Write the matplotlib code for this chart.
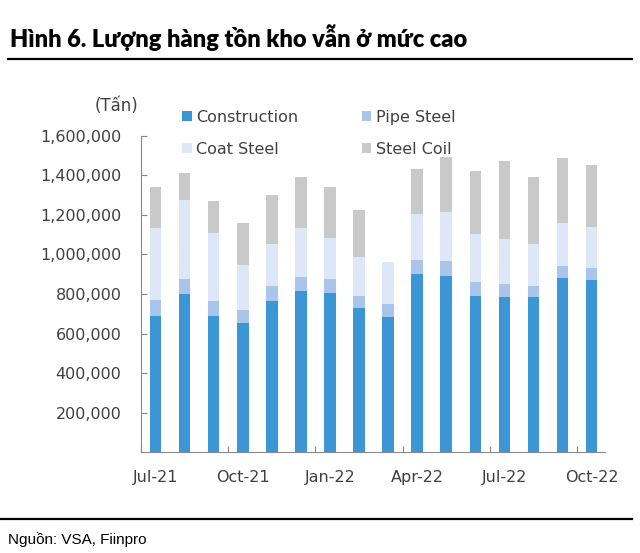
import matplotlib
matplotlib.use('Agg')
import matplotlib.pyplot as plt
import numpy as np
from matplotlib.ticker import FuncFormatter

########################################################################
### data ###
########################################################################

months = ['Jul-21', 'Aug-21', 'Sep-21', 'Oct-21', 'Nov-21', 'Dec-21',
          'Jan-22', 'Feb-22', 'Mar-22', 'Apr-22', 'May-22', 'Jun-22',
          'Jul-22', 'Aug-22', 'Sep-22', 'Oct-22']

construction = [690700, 798600, 687400, 653700, 764900, 815400, 805300, 729500,
                684000, 899600, 889500, 790100, 783400, 783400, 882800, 871000]
pipe_steel = [81000, 79000, 77500, 67000, 74000, 72000, 71000, 60500,
              64000, 72500, 76000, 72500, 67500, 59000, 60500, 60500]
coat_steel = [362000, 399000, 342000, 224000, 215500, 244000, 209000, 195500,
              215500, 232500, 251000, 239000, 225700, 210500, 217500, 209000]
steel_coil = [209000, 133000, 163500, 212000, 246000, 259500, 256000, 237500,
              0, 227500, 278000, 320000, 396000, 338700, 327000, 313500]

yticks = [200000, 400000, 600000, 800000, 1000000, 1200000, 1400000, 1600000]

########################################################################
### plot ###
########################################################################

c_con = '#3b96d5'
c_pipe = '#a9c5ec'
c_coat = '#dde7f8'
c_coil = '#c9c9c9'
txt = '#404040'

fig = plt.figure(figsize=(6.4, 5.53), dpi=100)
ax = fig.add_axes([141/640, 1-452.3/553, 464/640, (452.3-135.7)/553])

x = np.arange(len(months))
w = 0.4
b1 = np.array(construction)
b2 = b1 + np.array(pipe_steel)
b3 = b2 + np.array(coat_steel)

ax.bar(x, construction, w, color=c_con, label='Construction')
ax.bar(x, pipe_steel, w, bottom=b1, color=c_pipe, label='Pipe Steel')
ax.bar(x, coat_steel, w, bottom=b2, color=c_coat, label='Coat Steel')
ax.bar(x, steel_coil, w, bottom=b3, color=c_coil, label='Steel Coil')

ax.set_xlim(-0.5, 15.46)
ax.set_ylim(0, 1600000)

ax.set_yticks(yticks)
ax.yaxis.set_major_formatter(FuncFormatter(lambda v, p: f'{int(v):,}'))
ax.set_xticks(x[::3] - 0.5)
ax.set_xticklabels([])
ax.set_xticks(x[::3], minor=True)
ax.set_xticklabels(months[::3], minor=True)

ax.tick_params(axis='y', direction='in', length=4, color='#888888',
               labelsize=11.5, labelcolor=txt, pad=14)
ax.tick_params(axis='x', which='major', direction='in', length=4, color='#888888')
ax.tick_params(axis='x', which='minor', length=0, labelsize=11.5,
               labelcolor=txt, pad=13)

for s in ['top', 'right']:
    ax.spines[s].set_visible(False)
for s in ['left', 'bottom']:
    ax.spines[s].set_color('#888888')

h, l = ax.get_legend_handles_labels()
order = [0, 2, 1, 3]
ax.legend([h[i] for i in order], [l[i] for i in order], ncol=2,
          loc='upper left', bbox_to_anchor=(182/640, 1-110/553),
          bbox_transform=fig.transFigure, frameon=False,
          fontsize=11.5, labelcolor=txt, handlelength=0.6, handleheight=0.6,
          handletextpad=0.3, columnspacing=3.95, labelspacing=1.05,
          borderaxespad=0, borderpad=0)

fig.text(117/640, 1-106/553, '(Tấn)', ha='center', va='center',
         fontsize=12, color=txt)

# title and source
fig.text(10/640, 1-38/553, 'Hình 6. Lượng hàng tồn kho vẫn ở mức cao',
         fontsize=17, fontweight='heavy', va='center', ha='left',
         family=['Lato', 'DejaVu Sans'])
fig.add_artist(plt.Line2D([8/640, 632/640], [1-59/553, 1-59/553],
                          color='black', lw=1.6, transform=fig.transFigure))
fig.add_artist(plt.Line2D([0, 632/640], [1-519/553, 1-519/553],
                          color='black', lw=1.6, transform=fig.transFigure))
fig.text(8/640, 1-540/553, 'Nguồn: VSA, Fiinpro', fontsize=11,
         va='center', ha='left', family=['Liberation Sans', 'DejaVu Sans'])

fig.savefig('out.png', dpi=100)
